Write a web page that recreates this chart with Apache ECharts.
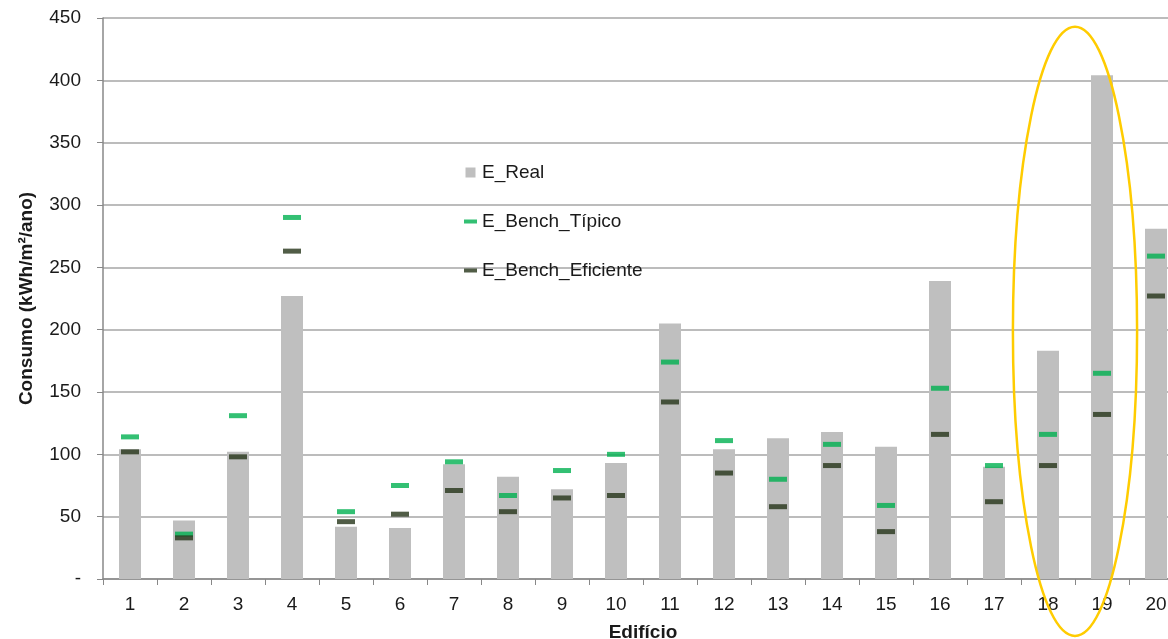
<!DOCTYPE html>
<html><head><meta charset="utf-8">
<script src="https://cdn.jsdelivr.net/npm/echarts@6/dist/echarts.min.js"></script>
<style>html,body{margin:0;padding:0;background:#fff}#c{width:1168px;height:639px}</style>
</head><body><div id="c"></div>
<script>
const categories = ['1','2','3','4','5','6','7','8','9','10','11','12','13','14','15','16','17','18','19','20'];
const eReal = [104, 47, 102, 227, 42, 41, 92, 82, 72, 93, 205, 104, 113, 118, 106, 239, 90, 183, 404, 281];
const eTipico = [114, 36, 131, 290, 54, 75, 94, 67, 87, 100, 174, 111, 80, 108, 59, 153, 91, 116, 165, 259];
const eEficiente = [102, 33, 98, 263, 46, 52, 71, 54, 65, 67, 142, 85, 58, 91, 38, 116, 62, 91, 132, 227];
const yTicks = [0, 50, 100, 150, 200, 250, 300, 350, 400, 450];

const chart = echarts.init(document.getElementById('c'));
const font = 'Liberation Sans, Arial, sans-serif';
chart.setOption({
  animation: false,
  backgroundColor: '#fff',
  grid: {left: 103, top: 18, height: 561, width: 1080, containLabel: false, outerBoundsMode: 'none'},
  legend: {
    orient: 'vertical', left: 464, top: 163, itemGap: 30, padding: 0,
    itemWidth: 13, itemHeight: 10,
    textStyle: {fontFamily: font, fontSize: 19, color: '#1a1a1a'},
    data: [
      {name: 'E_Real', icon: 'path://M0,0H10V10H0Z'},
      {name: 'E_Bench_Típico', icon: 'path://M0,0H13V4H0Z'},
      {name: 'E_Bench_Eficiente', icon: 'path://M0,0H13V4H0Z'}
    ]
  },
  xAxis: {
    type: 'category', data: categories, boundaryGap: true,
    name: 'Edifício', nameLocation: 'middle', nameGap: 44,
    nameTextStyle: {fontFamily: font, fontSize: 19, fontWeight: 'bold', color: '#1a1a1a'},
    axisLine: {lineStyle: {color: '#888', width: 1.5}},
    axisTick: {show: true, length: 6, alignWithLabel: false, lineStyle: {color: '#888'}},
    axisLabel: {fontFamily: font, fontSize: 19, color: '#1a1a1a', margin: 16}
  },
  yAxis: {
    type: 'value', min: 0, max: 450, interval: 50,
    name: 'Consumo (kWh/m²/ano)', nameLocation: 'middle', nameGap: 67,
    nameTextStyle: {fontFamily: font, fontSize: 19, fontWeight: 'bold', color: '#1a1a1a'},
    axisLine: {show: true, lineStyle: {color: '#888', width: 1.5}},
    axisTick: {show: true, length: 6, lineStyle: {color: '#888'}},
    splitLine: {lineStyle: {color: '#a6a6a6', width: 1.5}},
    axisLabel: {fontFamily: font, fontSize: 19, color: '#1a1a1a', margin: 22,
      formatter: v => (yTicks.indexOf(v) === 0 ? '-' : String(v))}
  },
  series: [
    {name: 'E_Real', type: 'bar', data: eReal, barWidth: 22, itemStyle: {color: '#bfbfbf'}},
    {name: 'E_Bench_Típico', type: 'scatter', data: eTipico, symbol: 'rect', symbolSize: [18, 5],
     itemStyle: {color: '#00b050'}, z: 5},
    {name: 'E_Bench_Eficiente', type: 'scatter', data: eEficiente, symbol: 'rect', symbolSize: [18, 5],
     itemStyle: {color: '#263419'}, z: 5}
  ]
});

// Annotation ellipse around buildings 18 and 19
const x18 = chart.convertToPixel({xAxisIndex: 0}, '18');
const x19 = chart.convertToPixel({xAxisIndex: 0}, '19');
const yTop = chart.convertToPixel({yAxisIndex: 0}, 443);
const yBottom = 636;
chart.setOption({
  graphic: [{
    type: 'ellipse', z: 100,
    shape: {cx: (x18 + x19) / 2, cy: (yTop + yBottom) / 2, rx: (x19 - x18) * 1.15, ry: (yBottom - yTop) / 2},
    style: {fill: 'none', stroke: '#ffcc00', lineWidth: 2.5}
  }]
});
</script></body></html>
